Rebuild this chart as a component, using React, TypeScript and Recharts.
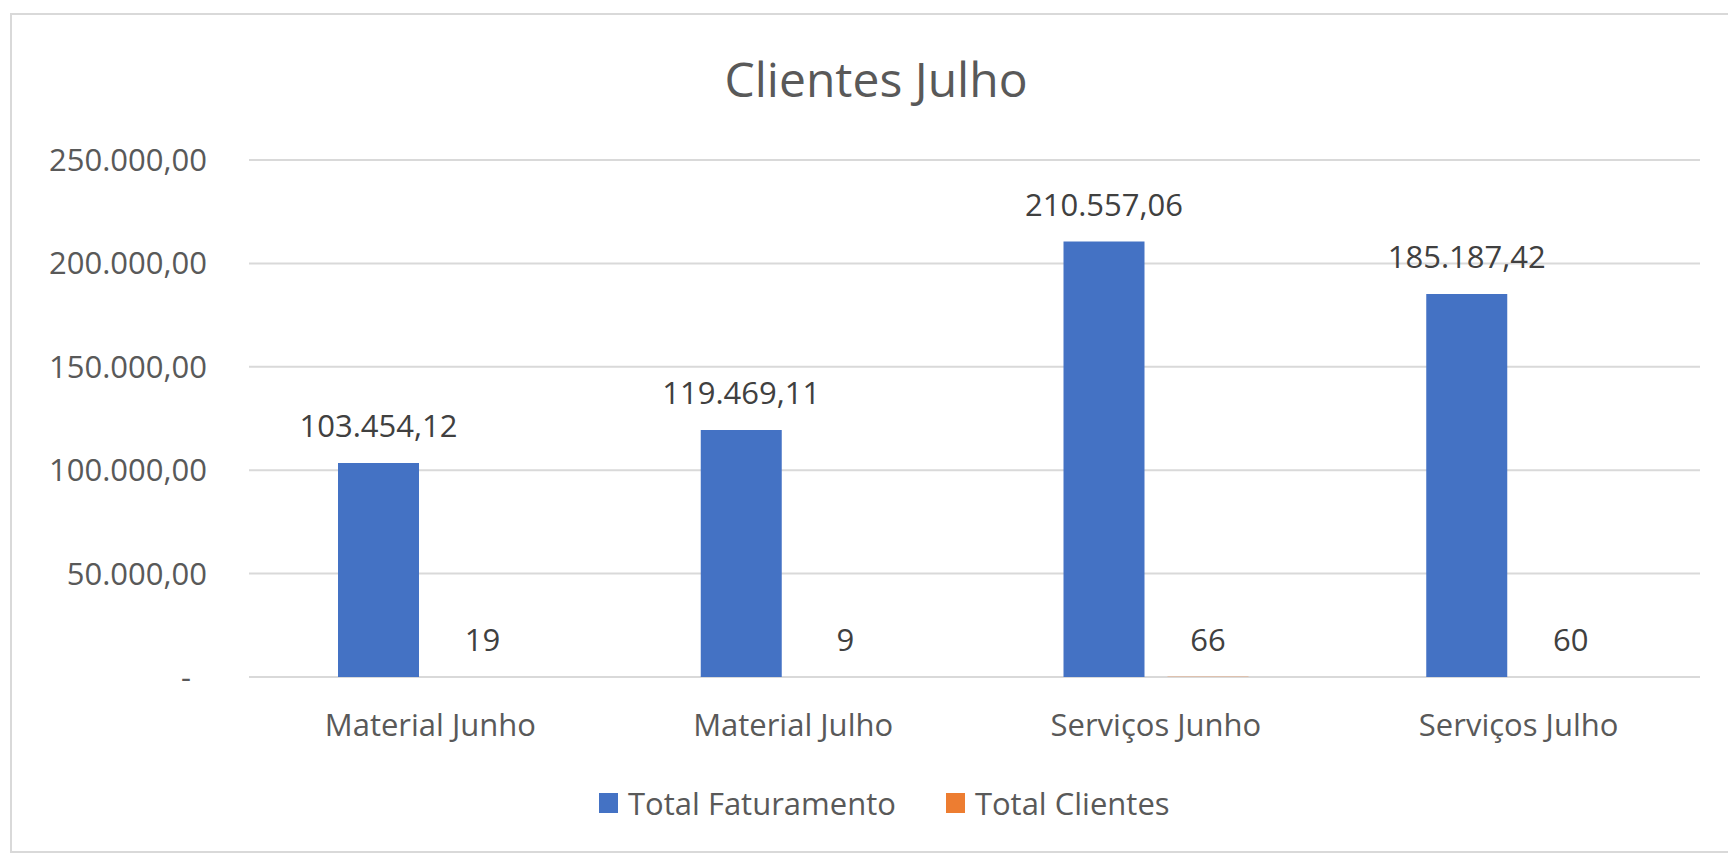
import React from 'react';
import { BarChart, Bar, XAxis, YAxis, CartesianGrid, LabelList, Legend } from 'recharts';

const categories = ['Material Junho', 'Material Julho', 'Serviços Junho', 'Serviços Julho'];
const totalFaturamento = [103454.12, 119469.11, 210557.06, 185187.42];
const totalClientes = [19, 9, 66, 60];
const yTicks = [0, 50000, 100000, 150000, 200000, 250000];
const seriesNames = ['Total Faturamento', 'Total Clientes'];
const seriesColors = ['#4472C4', '#ED7D31'];
const chartTitle = 'Clientes Julho';

const data = categories.map((c, i) => ({
  name: c,
  fat: totalFaturamento[i],
  cli: totalClientes[i],
}));

const FONT = '"Open Sans", "Noto Sans", sans-serif';
const AXIS_COLOR = '#595959';
const LABEL_COLOR = '#404040';

function fmtBR(v: number): string {
  const fixed = Math.abs(v).toFixed(2);
  const [intPart, dec] = fixed.split('.');
  const withDots = intPart.replace(/\B(?=(\d{3})+(?!\d))/g, '.');
  return (v < 0 ? '-' : '') + withDots + ',' + dec;
}
const yFmt = (v: number) => (v === 0 ? '-\u00A0\u00A0' : fmtBR(v));
const intFmt = (v: number) => String(v);

const LegendContent = () => (
  <div
    style={{
      display: 'flex',
      alignItems: 'center',
      fontFamily: FONT,
      fontSize: 31,
      color: AXIS_COLOR,
      lineHeight: '32px',
      whiteSpace: 'nowrap',
    }}
  >
    {seriesNames.map((n, i) => (
      <div key={n} style={{ display: 'flex', alignItems: 'center', marginRight: 50 }}>
        <span
          style={{
            display: 'inline-block',
            width: 19,
            height: 20,
            background: seriesColors[i],
            marginRight: 10,
          }}
        />
        <span>{n}</span>
      </div>
    ))}
  </div>
);

export default function App() {
  return (
    <div style={{ position: 'relative', width: 1728, height: 854, overflow: 'hidden', background: '#fff' }}>
      <style>{'html,body{margin:0;padding:0;overflow:hidden;background:#fff}'}</style>
      <div
        style={{
          position: 'absolute',
          left: 10,
          top: 13,
          width: 1740,
          height: 840,
          borderTop: '2px solid #d9d9d9',
          borderLeft: '2px solid #d9d9d9',
          borderBottom: '2px solid #d9d9d9',
          borderRight: 'none',
          boxSizing: 'border-box',
        }}
      />
      <svg
        width={1728}
        height={140}
        style={{ position: 'absolute', left: 0, top: 0 }}
      >
        <text
          x={876}
          y={97}
          textAnchor="middle"
          fontFamily={FONT}
          fontSize={48}
          fill={AXIS_COLOR}
        >
          {chartTitle}
        </text>
      </svg>
      <div style={{ position: 'absolute', left: 0, top: 0 }}>
        <BarChart
          width={1728}
          height={854}
          data={data}
          margin={{ top: 160, right: 28, bottom: 117, left: 0 }}
          barGap={23}
        >
          <CartesianGrid vertical={false} stroke="#d9d9d9" strokeWidth={2} />
          <XAxis
            dataKey="name"
            axisLine={false}
            tickLine={false}
            tickSize={0}
            tickMargin={37}
            height={60}
            interval={0}
            tick={{ fontFamily: FONT, fontSize: 31, fill: AXIS_COLOR }}
          />
          <YAxis
            width={249}
            domain={[0, 250000]}
            ticks={yTicks}
            axisLine={false}
            tickLine={false}
            tickSize={0}
            tickMargin={42}
            tickFormatter={yFmt}
            tick={{ fontFamily: FONT, fontSize: 31, fill: AXIS_COLOR }}
          />
          <Legend
            layout="horizontal"
            verticalAlign="middle"
            align="center"
            wrapperStyle={{ position: 'absolute', left: 599, top: 787, width: 800, height: 32 }}
            content={() => <LegendContent />}
          />
          <Bar dataKey="fat" name={seriesNames[0]} fill={seriesColors[0]} barSize={81} isAnimationActive={false}>
            <LabelList
              dataKey="fat"
              position="top"
              offset={26}
              formatter={(v: any) => fmtBR(Number(v))}
              fill={LABEL_COLOR}
              fontSize={31}
              fontFamily={FONT}
            />
          </Bar>
          <Bar dataKey="cli" name={seriesNames[1]} fill={seriesColors[1]} barSize={81} isAnimationActive={false}>
            <LabelList
              dataKey="cli"
              position="top"
              offset={26}
              formatter={(v: any) => intFmt(Number(v))}
              fill={LABEL_COLOR}
              fontSize={31}
              fontFamily={FONT}
            />
          </Bar>
        </BarChart>
      </div>
    </div>
  );
}
